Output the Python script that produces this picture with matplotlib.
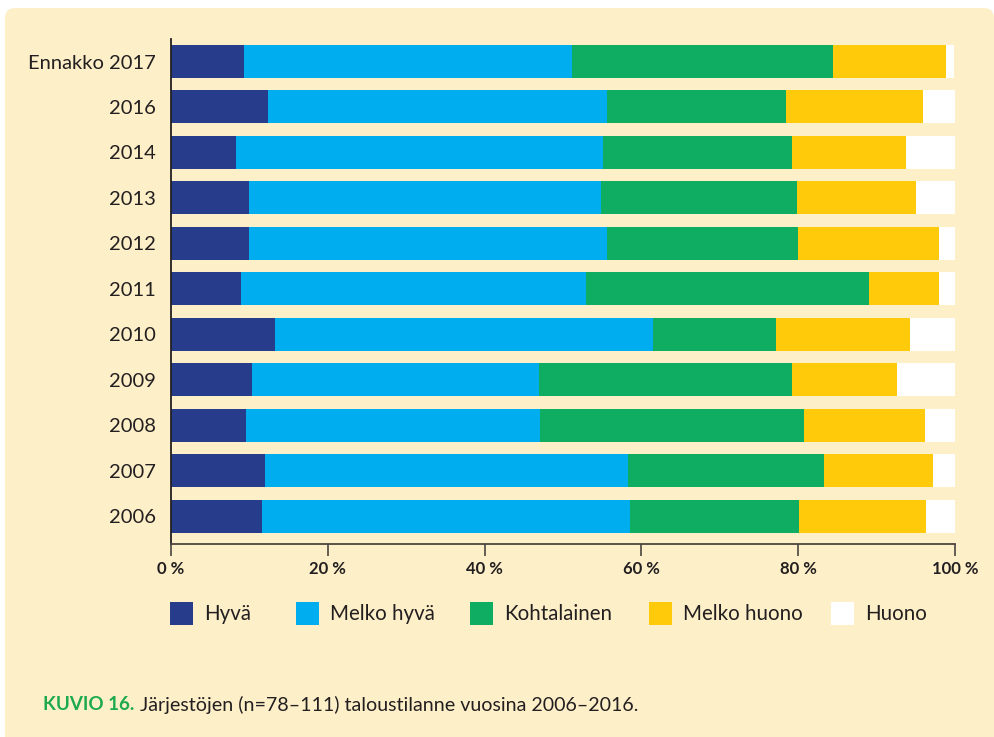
import matplotlib.pyplot as plt
from matplotlib.patches import FancyBboxPatch, Rectangle
import numpy as np

plt.rcParams['font.family'] = ['Lato', 'DejaVu Sans']

# Data (prosenttia), luettu kuvasta
years = ['Ennakko 2017', '2016', '2014', '2013', '2012', '2011',
         '2010', '2009', '2008', '2007', '2006']
hyva = [9.3, 12.4, 8.3, 9.9, 9.9, 8.9, 13.3, 10.3, 9.6, 12.0, 11.6]
melko_hyva = [41.8, 43.2, 46.8, 45.0, 45.7, 44.0, 48.2, 36.6, 37.5, 46.3, 46.9]
kohtalainen = [33.3, 22.8, 24.1, 25.0, 24.4, 36.1, 15.7, 32.3, 33.7, 25.0, 21.6]
melko_huono = [14.5, 17.5, 14.5, 15.1, 17.9, 8.9, 17.0, 13.4, 15.4, 13.9, 16.2]
huono = [1.0, 4.1, 6.3, 5.0, 2.1, 2.1, 5.9, 7.4, 3.8, 2.8, 3.7]

series_names = ['Hyvä', 'Melko hyvä', 'Kohtalainen', 'Melko huono', 'Huono']
series = [hyva, melko_hyva, kohtalainen, melko_huono, huono]
colors = ['#283C8C', '#00ADEE', '#0EAD62', '#FECA0A', '#FFFFFF']

xticks = [0, 20, 40, 60, 80, 100]
xtick_labels = ['0 %', '20 %', '40 %', '60 %', '80 %', '100 %']

BG = '#FDEFC8'
TXT = '#231F20'
W, H = 995, 737

fig = plt.figure(figsize=(W / 100, H / 100), dpi=100)
fig.patch.set_facecolor('white')

# keltainen pohja pyöristetyin kulmin
panel = FancyBboxPatch((0.05, -0.3), 9.89, 7.59,
                       boxstyle='round,pad=0,rounding_size=0.1',
                       transform=fig.dpi_scale_trans,
                       facecolor=BG, edgecolor='none', zorder=0)
fig.add_artist(panel)

def fx(px):
    return px / W

def fy(px):
    return 1 - px / H

ax = fig.add_axes([fx(171), fy(544), fx(955 - 171), (544 - 39) / H])
ax.patch.set_visible(False)

y = np.arange(len(years))
left = np.zeros(len(years))
for vals, col in zip(series, colors):
    ax.barh(y, vals, left=left, height=0.726, color=col, linewidth=0, zorder=2)
    left += np.array(vals)

ax.set_xlim(0, 100)
ax.set_ylim(len(years) - 1 + 0.61, -0.495)
ax.set_yticks(y)
ax.set_yticklabels(years, fontsize=14.5, color=TXT)
ax.set_xticks(xticks)
ax.set_xticklabels(xtick_labels, fontsize=12, fontweight='bold', color=TXT)

ax.tick_params(axis='y', length=0, pad=11)
ax.tick_params(axis='x', direction='out', length=8.5, width=1.2,
               color='#4a4540', pad=4)
for s in ['top', 'right']:
    ax.spines[s].set_visible(False)
ax.spines['left'].set_color(TXT)
ax.spines['left'].set_linewidth(1.3)
ax.spines['bottom'].set_color('#4a4540')
ax.spines['bottom'].set_linewidth(1.3)

# selite
leg_x = [170, 296, 470, 649, 831]
sq = 23
for name, col, lx in zip(series_names, colors, leg_x):
    fig.add_artist(Rectangle((fx(lx), fy(602 + sq)), fx(sq), sq / H,
                             transform=fig.transFigure, facecolor=col,
                             edgecolor='none'))
    fig.text(fx(lx + sq + 11), fy(613.5), name, fontsize=14.8, color=TXT,
             va='center', ha='left')

# kuvateksti
t1 = fig.text(fx(43), fy(705), 'KUVIO 16.', fontsize=13.5, fontweight='bold',
              color='#1DAA4E', va='center', ha='left')
ax.annotate('Järjestöjen (n=78–111) taloustilanne vuosina 2006–2016.',
            xy=(1, 0.5), xycoords=t1, xytext=(4, 0), textcoords='offset points',
            fontsize=14.1, color=TXT, va='center', ha='left',
            annotation_clip=False)

fig.savefig('out.png', dpi=100, facecolor=fig.get_facecolor())
